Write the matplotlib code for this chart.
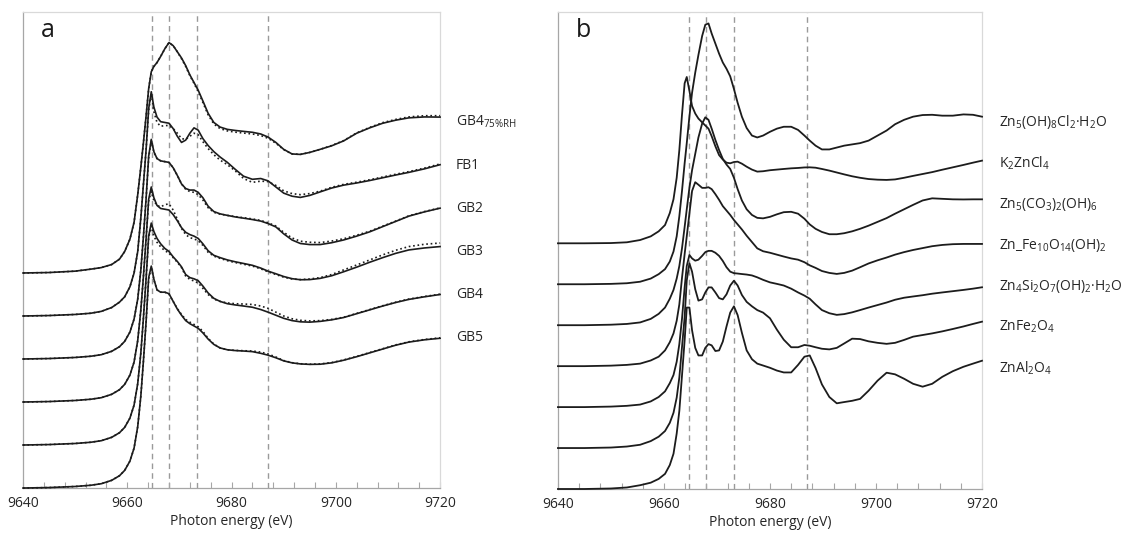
import numpy as np
import matplotlib
matplotlib.use("Agg")
import matplotlib.pyplot as plt
from matplotlib.ticker import MultipleLocator

plt.rcParams['font.family'] = ['Open Sans', 'DejaVu Sans']
plt.rcParams['mathtext.fontset'] = 'custom'
plt.rcParams['mathtext.rm'] = 'Open Sans'
plt.rcParams['mathtext.default'] = 'regular'

# reference energies marked by dashed lines (eV)
guide_energies = [9664.8, 9668.0, 9673.3, 9687.0]

# ---- panel a: samples (solid) and linear combination fits (dotted) ----
energy_a = [9640, 9645, 9650, 9653, 9655, 9657, 9658.5, 9659.5, 9660.5, 9661.3,
            9662, 9662.6, 9663.1, 9663.6, 9664.1, 9664.6, 9665.1, 9665.7, 9666.4, 9667.2,
            9668.0, 9668.8, 9669.6, 9670.4, 9671.2, 9672.0, 9672.8, 9673.6, 9674.5, 9675.5,
            9676.6, 9677.8, 9679.2, 9680.7, 9682.3, 9684.0, 9685.6, 9687.0, 9688.5, 9690.0,
            9691.6, 9693.2, 9695.0, 9697.0, 9699.2, 9701.5, 9704.0, 9706.5, 9709.0, 9711.5,
            9714.0, 9717.0, 9720]

samples = ['GB4$_{75\\%RH}$', 'FB1', 'GB2', 'GB3', 'GB4', 'GB5']
offsets_a = [1.40, 1.12, 0.84, 0.56, 0.28, 0.0]

gb4_75_data = [0.0, 0.003, 0.012, 0.025, 0.035, 0.055, 0.09, 0.14, 0.22, 0.33,
               0.51, 0.69, 0.85, 1.02, 1.20, 1.31, 1.345, 1.37, 1.41, 1.46,
               1.50, 1.48, 1.44, 1.40, 1.35, 1.29, 1.24, 1.19, 1.12, 1.04,
               0.98, 0.95, 0.935, 0.928, 0.922, 0.916, 0.905, 0.885, 0.85, 0.805,
               0.775, 0.772, 0.785, 0.805, 0.828, 0.86, 0.91, 0.945, 0.975, 0.995,
               1.01, 1.016, 1.015]
gb4_75_fit = [0.0, 0.003, 0.012, 0.025, 0.035, 0.055, 0.09, 0.14, 0.22, 0.33,
              0.51, 0.69, 0.85, 1.02, 1.20, 1.31, 1.345, 1.37, 1.41, 1.46,
              1.50, 1.48, 1.44, 1.395, 1.345, 1.285, 1.235, 1.18, 1.11, 1.03,
              0.97, 0.94, 0.925, 0.917, 0.911, 0.905, 0.895, 0.877, 0.845, 0.803,
              0.775, 0.772, 0.785, 0.805, 0.83, 0.862, 0.912, 0.948, 0.979, 1.0,
              1.016, 1.024, 1.024]

fb1_data = [0.0, 0.003, 0.01, 0.018, 0.03, 0.055, 0.09, 0.125, 0.19, 0.28,
            0.42, 0.64, 0.86, 1.08, 1.35, 1.46, 1.36, 1.295, 1.265, 1.26,
            1.255, 1.22, 1.17, 1.13, 1.145, 1.19, 1.225, 1.21, 1.155, 1.11,
            1.07, 1.035, 1.00, 0.955, 0.91, 0.89, 0.895, 0.88, 0.84, 0.80,
            0.78, 0.772, 0.785, 0.808, 0.833, 0.852, 0.866, 0.882, 0.90, 0.918,
            0.935, 0.958, 0.985]
fb1_fit = [0.0, 0.003, 0.01, 0.018, 0.03, 0.055, 0.09, 0.125, 0.19, 0.28,
           0.42, 0.64, 0.86, 1.08, 1.34, 1.45, 1.33, 1.26, 1.235, 1.24,
           1.24, 1.22, 1.19, 1.155, 1.15, 1.17, 1.19, 1.18, 1.135, 1.09,
           1.05, 1.015, 0.985, 0.945, 0.895, 0.87, 0.878, 0.875, 0.85, 0.815,
           0.797, 0.79, 0.797, 0.813, 0.838, 0.857, 0.871, 0.887, 0.905, 0.923,
           0.94, 0.963, 0.99]

gb2_data = [0.0, 0.003, 0.01, 0.018, 0.028, 0.05, 0.08, 0.115, 0.175, 0.26,
            0.39, 0.58, 0.80, 1.04, 1.32, 1.43, 1.35, 1.305, 1.29, 1.285,
            1.28, 1.245, 1.195, 1.14, 1.11, 1.10, 1.10, 1.085, 1.05, 0.995,
            0.96, 0.945, 0.935, 0.925, 0.917, 0.908, 0.898, 0.882, 0.86, 0.815,
            0.775, 0.752, 0.745, 0.745, 0.757, 0.775, 0.80, 0.828, 0.862, 0.896,
            0.93, 0.958, 0.982]
gb2_fit = [0.0, 0.003, 0.01, 0.018, 0.028, 0.05, 0.08, 0.115, 0.175, 0.26,
           0.39, 0.58, 0.80, 1.04, 1.31, 1.42, 1.345, 1.305, 1.29, 1.285,
           1.28, 1.245, 1.195, 1.14, 1.105, 1.09, 1.085, 1.07, 1.035, 0.985,
           0.955, 0.943, 0.935, 0.927, 0.92, 0.912, 0.902, 0.887, 0.866, 0.825,
           0.788, 0.767, 0.76, 0.758, 0.768, 0.783, 0.806, 0.832, 0.865, 0.898,
           0.932, 0.96, 0.984]

gb3_data = [0.0, 0.003, 0.01, 0.018, 0.028, 0.05, 0.08, 0.115, 0.175, 0.26,
            0.40, 0.60, 0.82, 1.06, 1.32, 1.40, 1.33, 1.28, 1.26, 1.255,
            1.25, 1.22, 1.18, 1.135, 1.105, 1.09, 1.08, 1.065, 1.03, 0.985,
            0.955, 0.94, 0.925, 0.913, 0.902, 0.89, 0.872, 0.852, 0.835, 0.817,
            0.803, 0.796, 0.797, 0.805, 0.822, 0.848, 0.878, 0.91, 0.94, 0.968,
            0.99, 1.003, 1.012]
gb3_fit = [0.0, 0.003, 0.01, 0.018, 0.028, 0.05, 0.08, 0.115, 0.175, 0.26,
           0.40, 0.60, 0.82, 1.06, 1.31, 1.37, 1.31, 1.28, 1.27, 1.285,
           1.29, 1.25, 1.19, 1.13, 1.09, 1.07, 1.062, 1.05, 1.02, 0.975,
           0.95, 0.935, 0.92, 0.908, 0.897, 0.885, 0.867, 0.848, 0.83, 0.813,
           0.801, 0.797, 0.801, 0.81, 0.83, 0.86, 0.892, 0.925, 0.958, 0.988,
           1.012, 1.027, 1.035]

gb4_data = [0.0, 0.003, 0.01, 0.018, 0.028, 0.05, 0.08, 0.115, 0.175, 0.26,
            0.40, 0.60, 0.83, 1.08, 1.36, 1.445, 1.39, 1.345, 1.31, 1.28,
            1.26, 1.225, 1.195, 1.16, 1.11, 1.09, 1.082, 1.07, 1.035, 0.99,
            0.955, 0.935, 0.92, 0.912, 0.905, 0.897, 0.882, 0.865, 0.845, 0.825,
            0.81, 0.802, 0.80, 0.805, 0.815, 0.83, 0.855, 0.88, 0.905, 0.928,
            0.948, 0.965, 0.98]
gb4_fit = [0.0, 0.003, 0.01, 0.018, 0.028, 0.05, 0.08, 0.115, 0.175, 0.26,
           0.40, 0.60, 0.83, 1.08, 1.35, 1.425, 1.36, 1.32, 1.29, 1.265,
           1.25, 1.22, 1.19, 1.155, 1.10, 1.078, 1.068, 1.055, 1.02, 0.98,
           0.95, 0.935, 0.925, 0.92, 0.918, 0.915, 0.905, 0.89, 0.865, 0.84,
           0.822, 0.812, 0.808, 0.81, 0.818, 0.832, 0.857, 0.882, 0.907, 0.93,
           0.95, 0.967, 0.982]

gb5_data = [0.0, 0.003, 0.01, 0.018, 0.028, 0.05, 0.08, 0.115, 0.175, 0.26,
            0.40, 0.60, 0.83, 1.08, 1.37, 1.445, 1.36, 1.29, 1.275, 1.275,
            1.265, 1.215, 1.165, 1.125, 1.09, 1.07, 1.055, 1.04, 1.01, 0.97,
            0.935, 0.912, 0.90, 0.895, 0.892, 0.888, 0.877, 0.865, 0.848, 0.828,
            0.815, 0.808, 0.805, 0.806, 0.815, 0.832, 0.855, 0.88, 0.905, 0.93,
            0.95, 0.965, 0.975]
gb5_fit = [0.0, 0.003, 0.01, 0.018, 0.028, 0.05, 0.08, 0.115, 0.175, 0.26,
           0.40, 0.60, 0.83, 1.08, 1.36, 1.44, 1.355, 1.29, 1.275, 1.275,
           1.262, 1.215, 1.168, 1.13, 1.097, 1.08, 1.065, 1.05, 1.02, 0.975,
           0.937, 0.912, 0.90, 0.896, 0.894, 0.892, 0.885, 0.873, 0.853, 0.83,
           0.816, 0.809, 0.806, 0.808, 0.817, 0.834, 0.857, 0.882, 0.907, 0.932,
           0.952, 0.967, 0.978]

data_a = [gb4_75_data, fb1_data, gb2_data, gb3_data, gb4_data, gb5_data]
fits_a = [gb4_75_fit, fb1_fit, gb2_fit, gb3_fit, gb4_fit, gb5_fit]

# ---- panel b: reference compounds ----
energy_b = [9640, 9645, 9650, 9653, 9655.5, 9657.5, 9659, 9660.2, 9661.1, 9661.8,
            9662.4, 9662.9, 9663.4, 9663.9, 9664.3, 9664.8, 9665.3, 9665.9, 9666.5, 9667.2,
            9667.8, 9668.4, 9669.0, 9669.7, 9670.4, 9671.1, 9671.8, 9672.5, 9673.2, 9673.9,
            9674.7, 9675.6, 9676.6, 9677.6, 9678.7, 9680.0, 9681.3, 9682.6, 9684.0, 9685.3,
            9686.5, 9687.5, 9688.6, 9689.8, 9691.2, 9692.6, 9694.0, 9695.5, 9697.0, 9698.6,
            9700.3, 9702.0, 9703.6, 9705.3, 9707.0, 9708.8, 9710.6, 9712.5, 9714.5, 9716.5,
            9718.3, 9720]

references = ['Zn$_5$(OH)$_8$Cl$_2$·H$_2$O', 'K$_2$ZnCl$_4$', 'Zn$_5$(CO$_3$)$_2$(OH)$_6$',
              'Zn_Fe$_{10}$O$_{14}$(OH)$_2$', 'Zn$_4$Si$_2$O$_7$(OH)$_2$·H$_2$O',
              'ZnFe$_2$O$_4$', 'ZnAl$_2$O$_4$']
offsets_b = [1.625, 1.95, 1.3, 0.975, 0.65, 0.325, 0.0]

simonkolleite = [0.0, 0.0, 0.003, 0.008, 0.02, 0.045, 0.08, 0.12, 0.18, 0.26,
                 0.38, 0.54, 0.74, 0.96, 1.12, 1.33, 1.52, 1.68, 1.82, 1.97,
                 2.06, 2.07, 1.99, 1.91, 1.83, 1.76, 1.71, 1.65, 1.55, 1.44,
                 1.33, 1.24, 1.18, 1.165, 1.18, 1.21, 1.235, 1.25, 1.25, 1.225,
                 1.18, 1.14, 1.10, 1.07, 1.07, 1.085, 1.10, 1.11, 1.12, 1.14,
                 1.18, 1.22, 1.27, 1.305, 1.33, 1.343, 1.345, 1.338, 1.338, 1.348,
                 1.345, 1.33]
k2zncl4 = [0.0, 0.0, 0.002, 0.008, 0.026, 0.055, 0.095, 0.145, 0.24, 0.35,
           0.52, 0.74, 1.02, 1.27, 1.32, 1.21, 1.09, 1.03, 0.99, 0.96,
           0.935, 0.91, 0.85, 0.77, 0.70, 0.665, 0.64, 0.635, 0.645, 0.648,
           0.632, 0.608, 0.585, 0.569, 0.572, 0.58, 0.585, 0.59, 0.595, 0.598,
           0.602, 0.603, 0.60, 0.59, 0.577, 0.562, 0.547, 0.532, 0.52, 0.51,
           0.505, 0.503, 0.507, 0.52, 0.535, 0.55, 0.565, 0.584, 0.603, 0.622,
           0.64, 0.656]
hydrozincite = [0.0, 0.0, 0.004, 0.01, 0.022, 0.05, 0.09, 0.14, 0.21, 0.28,
                0.37, 0.47, 0.61, 0.78, 0.92, 1.09, 1.23, 1.36, 1.49, 1.60,
                1.65, 1.63, 1.56, 1.47, 1.39, 1.32, 1.275, 1.24, 1.17, 1.08,
                0.99, 0.92, 0.875, 0.852, 0.848, 0.86, 0.88, 0.897, 0.90, 0.885,
                0.845, 0.80, 0.765, 0.74, 0.722, 0.722, 0.73, 0.745, 0.765, 0.79,
                0.82, 0.85, 0.885, 0.92, 0.955, 0.99, 1.007, 1.003, 0.999, 0.998,
                0.999, 0.999]
zn_ferrihydrite = [0.0, 0.0, 0.004, 0.01, 0.02, 0.045, 0.075, 0.125, 0.19, 0.26,
                   0.36, 0.49, 0.70, 0.89, 1.03, 1.21, 1.39, 1.46, 1.44, 1.415,
                   1.415, 1.42, 1.405, 1.365, 1.32, 1.27, 1.235, 1.20, 1.16, 1.125,
                   1.085, 1.035, 0.985, 0.935, 0.912, 0.90, 0.885, 0.87, 0.855, 0.845,
                   0.825, 0.80, 0.78, 0.755, 0.74, 0.732, 0.74, 0.758, 0.785, 0.815,
                   0.84, 0.862, 0.885, 0.905, 0.922, 0.937, 0.952, 0.962, 0.968, 0.97,
                   0.97, 0.97]
hemimorphite = [0.0, 0.0, 0.004, 0.01, 0.02, 0.045, 0.08, 0.125, 0.19, 0.255,
                0.36, 0.50, 0.70, 0.95, 1.12, 1.207, 1.18, 1.162, 1.17, 1.20,
                1.23, 1.24, 1.24, 1.225, 1.20, 1.16, 1.11, 1.075, 1.063, 1.06,
                1.056, 1.052, 1.045, 1.03, 1.01, 0.99, 0.978, 0.965, 0.94, 0.91,
                0.885, 0.86, 0.815, 0.77, 0.745, 0.732, 0.738, 0.752, 0.77, 0.79,
                0.81, 0.83, 0.852, 0.868, 0.878, 0.888, 0.90, 0.91, 0.92, 0.93,
                0.94, 0.951]
franklinite = [0.0, 0.0, 0.004, 0.012, 0.026, 0.055, 0.09, 0.135, 0.20, 0.28,
               0.40, 0.56, 0.80, 1.04, 1.33, 1.466, 1.40, 1.26, 1.17, 1.18,
               1.235, 1.275, 1.275, 1.235, 1.19, 1.18, 1.22, 1.29, 1.328, 1.29,
               1.215, 1.16, 1.125, 1.095, 1.075, 1.03, 0.94, 0.86, 0.80, 0.80,
               0.818, 0.812, 0.80, 0.788, 0.783, 0.795, 0.83, 0.868, 0.865, 0.847,
               0.835, 0.827, 0.835, 0.858, 0.884, 0.897, 0.91, 0.926, 0.945, 0.965,
               0.985, 1.003]
gahnite = [0.0, 0.0, 0.004, 0.012, 0.03, 0.05, 0.08, 0.12, 0.19, 0.28,
           0.44, 0.62, 0.90, 1.18, 1.44, 1.44, 1.26, 1.12, 1.06, 1.06,
           1.12, 1.15, 1.14, 1.095, 1.10, 1.17, 1.29, 1.40, 1.45, 1.38,
           1.24, 1.10, 1.03, 0.995, 0.98, 0.962, 0.94, 0.925, 0.925, 0.985,
           1.05, 1.06, 0.96, 0.83, 0.73, 0.68, 0.69, 0.70, 0.715, 0.78,
           0.86, 0.923, 0.91, 0.875, 0.835, 0.812, 0.835, 0.89, 0.935, 0.97,
           0.995, 1.018]

data_b = [simonkolleite, k2zncl4, hydrozincite, zn_ferrihydrite,
          hemimorphite, franklinite, gahnite]

line_col = '#1c1c1c'

fig = plt.figure(figsize=(11.29, 5.37), dpi=100)
ax_a = fig.add_axes([0.0204, 0.0912, 0.3694, 0.8864])
ax_b = fig.add_axes([0.4942, 0.0894, 0.3756, 0.8883])


def style_axes(ax, ymax, letter):
    ax.set_xlim(9640, 9720)
    ax.set_ylim(0, ymax)
    ax.set_yticks([])
    ax.xaxis.set_major_locator(MultipleLocator(20))
    ax.xaxis.set_minor_locator(MultipleLocator(4))
    ax.tick_params(axis='x', which='both', direction='in', color='#a6a6a6',
                   length=4, width=0.8, labelsize=10, labelcolor='#262626', pad=6)
    for s in ['top', 'right']:
        ax.spines[s].set_color('#d9d9d9')
    for s in ['left', 'bottom']:
        ax.spines[s].set_color('#a6a6a6')
    for s in ax.spines.values():
        s.set_linewidth(0.9)
    ax.set_xlabel('Photon energy (eV)', fontsize=10, color='#262626', labelpad=2)
    for e in guide_energies:
        ax.axvline(e, color='#9a9a9a', lw=1.0, ls=(0, (4, 3)), zorder=1)
    ax.text(0.06, 0.962, letter, transform=ax.transAxes, fontsize=18,
            ha='center', va='center', color='#1a1a1a')


style_axes(ax_a, 3.099, 'a')
style_axes(ax_b, 3.786, 'b')

for name, off, y, yf in zip(samples, offsets_a, data_a, fits_a):
    ax_a.plot(energy_a, np.array(yf) + off, color=line_col, lw=1.2, ls=':', clip_on=False, zorder=3)
    ax_a.plot(energy_a, np.array(y) + off, color=line_col, lw=1.2, clip_on=False, zorder=4)
    ax_a.text(9723, off + 0.983, name, fontsize=10, ha='left', va='center',
              color='#262626', clip_on=False)

n_ref = len(references)
for i, (name, off, y) in enumerate(zip(references, offsets_b, data_b)):
    ax_b.plot(energy_b, np.array(y) + off, color=line_col, lw=1.3, clip_on=False, zorder=4)
    ax_b.text(9723.2, (n_ref - 1 - i) * 0.325 + 0.96, name, fontsize=10, ha='left',
              va='center', color='#262626', clip_on=False)

fig.savefig('out.png', dpi=100)
